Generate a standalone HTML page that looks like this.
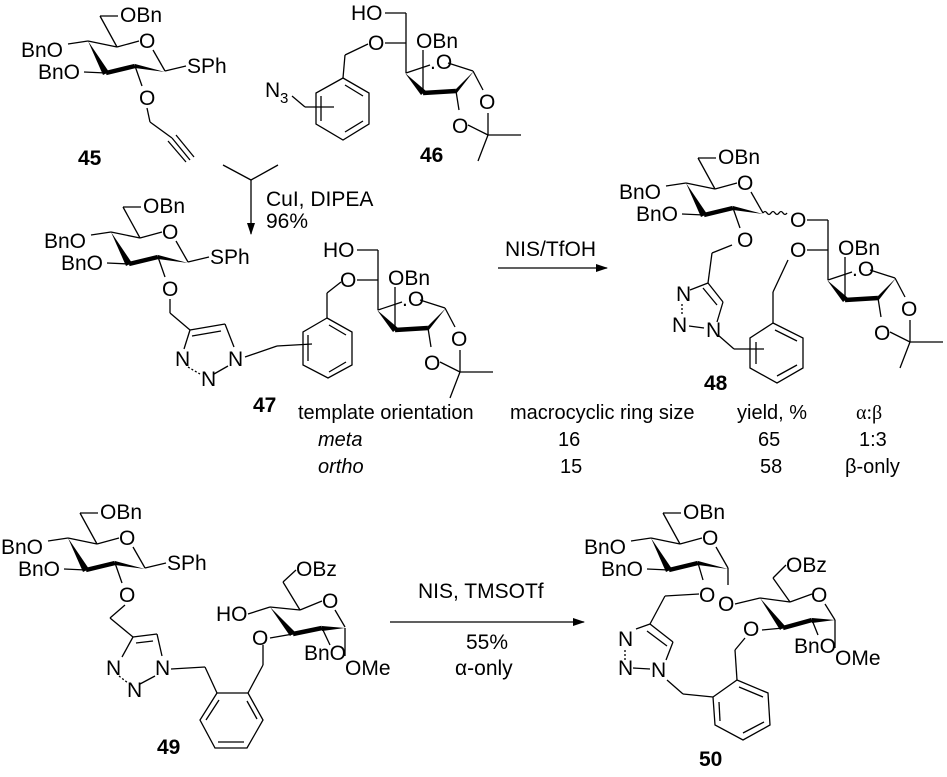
<!DOCTYPE html>
<html><head><meta charset="utf-8"><style>
html,body{margin:0;padding:0;background:#fff;overflow:hidden;width:947px;height:777px;}
svg{display:block;}
text{font-family:"Liberation Sans",sans-serif;font-size:21px;fill:#000;}
.b{font-weight:bold;}
.t{font-size:20px;}
.i{font-style:italic;}
line,polyline,path{stroke:#000;stroke-width:1.3;fill:none;}
.w{stroke-width:4.5;}
polygon{fill:#000;stroke:none;}
</style></head><body>
<svg width="947" height="777" viewBox="0 0 947 777" xmlns="http://www.w3.org/2000/svg">
<defs>
<marker id="ah" markerWidth="12" markerHeight="8" refX="11" refY="4" orient="auto" markerUnits="userSpaceOnUse"><path d="M0,0 L12,4 L0,8 z" style="fill:#000;stroke:none"/></marker>
</defs>

<!-- 45 -->
<g transform="translate(0,0)">
<line x1="100" y1="16" x2="118" y2="16"/><text x="120" y="22">OBn</text>
<line x1="100" y1="16" x2="117" y2="47"/>
<line x1="88" y1="41" x2="117" y2="47"/>
<line x1="117" y1="47" x2="139" y2="41"/><text x="139" y="48">O</text>
<line x1="153" y1="50" x2="165" y2="71"/>
<line x1="88" y1="41" x2="68" y2="44"/><text x="21" y="57">BnO</text>
<polygon points="88,41 103,75 109,72"/>
<line class="w" x1="106" y1="73" x2="135" y2="66"/>
<polygon points="135,64 135,68 165,72"/>
<line x1="106" y1="73" x2="84" y2="72"/><text x="38" y="79">BnO</text>
<line x1="165" y1="71" x2="186" y2="66"/><text x="187" y="73">SPh</text>
<line x1="135" y1="66" x2="142" y2="86"/><text x="139" y="105">O</text>
</g>
<line x1="147" y1="108" x2="150" y2="122"/>
<line x1="150" y1="122" x2="172" y2="138"/>
<line x1="172" y1="138" x2="190" y2="160"/>
<line x1="168" y1="141" x2="186" y2="162"/>
<line x1="176" y1="135" x2="194" y2="157"/>
<text class="b" x="78" y="165">45</text>

<!-- 47 glucose -->
<g transform="translate(23,191)">
<line x1="100" y1="16" x2="118" y2="16"/><text x="120" y="22">OBn</text>
<line x1="100" y1="16" x2="117" y2="47"/>
<line x1="88" y1="41" x2="117" y2="47"/>
<line x1="117" y1="47" x2="139" y2="41"/><text x="139" y="48">O</text>
<line x1="153" y1="50" x2="165" y2="71"/>
<line x1="88" y1="41" x2="68" y2="44"/><text x="21" y="57">BnO</text>
<polygon points="88,41 103,75 109,72"/>
<line class="w" x1="106" y1="73" x2="135" y2="66"/>
<polygon points="135,64 135,68 165,72"/>
<line x1="106" y1="73" x2="84" y2="72"/><text x="38" y="79">BnO</text>
<line x1="165" y1="71" x2="186" y2="66"/><text x="187" y="73">SPh</text>
<line x1="135" y1="66" x2="142" y2="86"/><text x="139" y="105">O</text>
</g>
<!-- 47 triazole -->
<line x1="170" y1="299" x2="170" y2="313"/>
<line x1="170" y1="313" x2="190" y2="330"/>
<line x1="190" y1="330" x2="225" y2="324"/>
<line x1="192" y1="336" x2="221" y2="331"/>
<line x1="225" y1="324" x2="234" y2="347"/>
<line x1="190" y1="330" x2="184" y2="349"/>
<text x="175" y="366">N</text><text x="201" y="386">N</text><text x="228" y="366">N</text>
<line x1="188" y1="367" x2="200" y2="374" stroke-dasharray="2,2"/>
<line x1="214" y1="374" x2="228" y2="366"/>
<line x1="245" y1="357" x2="277" y2="346"/>
<line x1="277" y1="346" x2="312" y2="344"/>
<polyline points="327,318 352,332 352,365 328,378 303,365 303,332 327,318"/>
<line x1="329" y1="325" x2="346" y2="335"/><line x1="346" y1="362" x2="329" y2="372"/><line x1="308" y1="335" x2="308" y2="361"/>
<line x1="327" y1="318" x2="327" y2="293"/><line x1="327" y1="293" x2="341" y2="282"/>
<text class="b" x="253" y="412">47</text>

<!-- furanose 47 -->
<g>
<text x="323" y="257">HO</text>
<line x1="357" y1="250" x2="378" y2="250"/><line x1="378" y1="250" x2="378" y2="310"/>
<text x="340" y="287">O</text><line x1="357" y1="280" x2="378" y2="280"/>
<text x="388" y="285">OBn</text>
<line x1="395" y1="287" x2="395" y2="330"/>
<polygon points="377,310 393,332 398,328"/>
<line class="w" x1="395" y1="330" x2="428" y2="328"/>
<polygon points="428,326 428,331 446,308"/>
<line x1="378" y1="310" x2="402" y2="302"/>
<text x="402" y="306">.O</text>
<line x1="420" y1="300" x2="445" y2="308"/>
<line x1="428" y1="328" x2="431" y2="347"/><text x="424" y="370">O</text>
<line x1="445" y1="308" x2="455" y2="327"/><text x="451" y="346">O</text>
<line x1="440" y1="362" x2="460" y2="372"/><line x1="460" y1="350" x2="460" y2="372"/>
<line x1="460" y1="372" x2="493" y2="372"/><line x1="460" y1="372" x2="450" y2="398"/>
</g>

<!-- 46 -->
<g transform="translate(28,-237)">
<text x="323" y="257">HO</text>
<line x1="357" y1="250" x2="378" y2="250"/><line x1="378" y1="250" x2="378" y2="310"/>
<text x="340" y="287">O</text><line x1="357" y1="280" x2="378" y2="280"/>
<text x="388" y="285">OBn</text>
<line x1="395" y1="287" x2="395" y2="330"/>
<polygon points="377,310 393,332 398,328"/>
<line class="w" x1="395" y1="330" x2="428" y2="328"/>
<polygon points="428,326 428,331 446,308"/>
<line x1="378" y1="310" x2="402" y2="302"/>
<text x="402" y="306">.O</text>
<line x1="420" y1="300" x2="445" y2="308"/>
<line x1="428" y1="328" x2="431" y2="347"/><text x="424" y="370">O</text>
<line x1="445" y1="308" x2="455" y2="327"/><text x="451" y="346">O</text>
<line x1="440" y1="362" x2="460" y2="372"/><line x1="460" y1="350" x2="460" y2="372"/>
<line x1="460" y1="372" x2="493" y2="372"/><line x1="460" y1="372" x2="450" y2="398"/>
</g>
<line x1="368" y1="44" x2="345" y2="55"/><line x1="345" y1="55" x2="343" y2="78"/>
<polyline points="343,78 369,93 369,124 343,140 316,124 316,93 343,78"/>
<line x1="345" y1="85" x2="363" y2="96"/><line x1="363" y1="121" x2="345" y2="132"/><line x1="321" y1="96" x2="321" y2="121"/>
<text x="265" y="97">N</text><text x="280" y="103" style="font-size:15px">3</text>
<line x1="292" y1="96" x2="305" y2="107"/><line x1="305" y1="107" x2="334" y2="107"/>
<text class="b" x="420" y="162">46</text>

<!-- arrow 1 -->
<line x1="223" y1="165" x2="251" y2="180"/><line x1="278" y1="165" x2="251" y2="180"/>
<line x1="251" y1="180" x2="251" y2="234" marker-end="url(#ah)"/>
<text x="266" y="206">CuI, DIPEA</text>
<text x="266" y="228">96%</text>

<!-- arrow 2 -->
<text x="505" y="256">NIS/TfOH</text>
<line x1="498" y1="268" x2="607" y2="268" marker-end="url(#ah)"/>

<!-- 48 glucose -->
<g transform="translate(598,142)">
<line x1="100" y1="16" x2="118" y2="16"/><text x="120" y="22">OBn</text>
<line x1="100" y1="16" x2="117" y2="47"/>
<line x1="88" y1="41" x2="117" y2="47"/>
<line x1="117" y1="47" x2="139" y2="41"/><text x="139" y="48">O</text>
<line x1="153" y1="50" x2="165" y2="71"/>
<line x1="88" y1="41" x2="68" y2="44"/><text x="21" y="57">BnO</text>
<polygon points="88,41 103,75 109,72"/>
<line class="w" x1="106" y1="73" x2="135" y2="66"/>
<polygon points="135,64 135,68 165,72"/>
<line x1="106" y1="73" x2="84" y2="72"/><text x="38" y="79">BnO</text>
<path d="M165,71 q2,-3 4,0 q2,3 4,0 q2,-3 4,0 q2,3 4,0 q2,-3 4,0 q2,3 4,0"/>
<line x1="135" y1="66" x2="142" y2="86"/><text x="139" y="105">O</text>
</g>
<g transform="translate(450,-30)">
<text x="340" y="257">O</text>
<line x1="357" y1="250" x2="378" y2="250"/><line x1="378" y1="250" x2="378" y2="310"/>
<text x="340" y="287">O</text><line x1="357" y1="280" x2="378" y2="280"/>
<text x="388" y="285">OBn</text>
<line x1="395" y1="287" x2="395" y2="330"/>
<polygon points="377,310 393,332 398,328"/>
<line class="w" x1="395" y1="330" x2="428" y2="328"/>
<polygon points="428,326 428,331 446,308"/>
<line x1="378" y1="310" x2="402" y2="302"/>
<text x="402" y="306">.O</text>
<line x1="420" y1="300" x2="445" y2="308"/>
<line x1="428" y1="328" x2="431" y2="347"/><text x="424" y="370">O</text>
<line x1="445" y1="308" x2="455" y2="327"/><text x="451" y="346">O</text>
<line x1="440" y1="362" x2="460" y2="372"/><line x1="460" y1="350" x2="460" y2="372"/>
<line x1="460" y1="372" x2="493" y2="372"/><line x1="460" y1="372" x2="450" y2="398"/>
</g>
<line x1="732" y1="245" x2="712" y2="253"/><line x1="712" y1="253" x2="708" y2="283"/>
<line x1="708" y1="283" x2="723" y2="302"/><line x1="703" y1="288" x2="717" y2="305"/>
<line x1="708" y1="283" x2="690" y2="290"/>
<line x1="723" y1="302" x2="717" y2="322"/>
<text x="676" y="301">N</text><text x="672" y="332">N</text><text x="706" y="337">N</text>
<line x1="682" y1="304" x2="682" y2="316" stroke-dasharray="2,2"/>
<line x1="689" y1="326" x2="704" y2="328"/>
<line x1="718" y1="335" x2="734" y2="349"/><line x1="734" y1="349" x2="764" y2="349"/>
<polyline points="773,323 803,338 803,368 777,383 750,368 750,338 773,323"/>
<line x1="775" y1="330" x2="797" y2="341"/><line x1="797" y1="365" x2="777" y2="376"/><line x1="756" y1="342" x2="756" y2="364"/>
<line x1="773" y1="323" x2="773" y2="292"/><line x1="773" y1="292" x2="788" y2="260"/>
<text class="b" x="704" y="390">48</text>

<!-- table -->
<text class="t" x="298" y="419">template orientation</text>
<text class="t" x="510" y="419">macrocyclic ring size</text>
<text class="t" x="737" y="419">yield, %</text>
<text class="t" x="856" y="419" style="font-family:'Liberation Serif',serif">α:β</text>
<text class="t i" x="318" y="446">meta</text>
<text class="t" x="558" y="446">16</text>
<text class="t" x="758" y="446">65</text>
<text class="t" x="859" y="446">1:3</text>
<text class="t i" x="318" y="473">ortho</text>
<text class="t" x="560" y="473">15</text>
<text class="t" x="760" y="473">58</text>
<text class="t" x="845" y="473">β-only</text>

<!-- 49 glucose -->
<g transform="translate(-20,497)">
<line x1="100" y1="16" x2="118" y2="16"/><text x="120" y="22">OBn</text>
<line x1="100" y1="16" x2="117" y2="47"/>
<line x1="88" y1="41" x2="117" y2="47"/>
<line x1="117" y1="47" x2="139" y2="41"/><text x="139" y="48">O</text>
<line x1="153" y1="50" x2="165" y2="71"/>
<line x1="88" y1="41" x2="68" y2="44"/><text x="21" y="57">BnO</text>
<polygon points="88,41 103,75 109,72"/>
<line class="w" x1="106" y1="73" x2="135" y2="66"/>
<polygon points="135,64 135,68 165,72"/>
<line x1="106" y1="73" x2="84" y2="72"/><text x="38" y="79">BnO</text>
<line x1="165" y1="71" x2="186" y2="66"/><text x="187" y="73">SPh</text>
<line x1="135" y1="66" x2="142" y2="86"/><text x="139" y="105">O</text>
</g>
<line x1="125" y1="605" x2="110" y2="618"/><line x1="110" y1="618" x2="133" y2="637"/>
<line x1="133" y1="637" x2="157" y2="634"/><line x1="136" y1="643" x2="153" y2="641"/>
<line x1="157" y1="634" x2="162" y2="656"/>
<line x1="133" y1="637" x2="122" y2="657"/>
<text x="106" y="675">N</text><text x="127" y="697">N</text><text x="155" y="675">N</text>
<line x1="119" y1="676" x2="128" y2="683" stroke-dasharray="2,2"/>
<line x1="140" y1="684" x2="155" y2="676"/>
<line x1="171" y1="669" x2="205" y2="667"/><line x1="205" y1="667" x2="217" y2="693"/>
<polyline points="217,693 248,693 263,720 247,748 215,748 200,720 217,693"/>
<line x1="219" y1="700" x2="206" y2="720"/><line x1="247" y1="701" x2="257" y2="719"/><line x1="218" y1="742" x2="244" y2="742"/>
<line x1="248" y1="693" x2="263" y2="665"/><line x1="263" y1="665" x2="263" y2="645"/>
<text class="b" x="157" y="754">49</text>
<text x="216" y="621">HO</text><line x1="248" y1="614" x2="270" y2="607"/>
<line x1="270" y1="607" x2="300" y2="610"/>
<line x1="300" y1="610" x2="322" y2="601"/><text x="322" y="608">O</text>
<line x1="335" y1="610" x2="345" y2="627"/>
<polygon points="270,607 290,636 295,632"/>
<line class="w" x1="293" y1="634" x2="322" y2="628"/>
<polygon points="322,626 322,631 345,628"/>
<line x1="300" y1="610" x2="283" y2="582"/><line x1="283" y1="582" x2="296" y2="570"/>
<text x="296" y="576">OBz</text>
<line x1="293" y1="634" x2="270" y2="638"/><text x="252" y="645">O</text>
<line x1="322" y1="628" x2="330" y2="645"/><text x="304" y="660">BnO</text>
<line x1="345" y1="628" x2="345" y2="656"/><text x="345" y="675">OMe</text>

<!-- arrow 3 -->
<text x="418" y="598">NIS, TMSOTf</text>
<line x1="390" y1="622" x2="584" y2="622" marker-end="url(#ah)"/>
<text x="466" y="649">55%</text>
<text x="455" y="675">α-only</text>

<!-- 50 glucose -->
<g transform="translate(563,497)">
<line x1="100" y1="16" x2="118" y2="16"/><text x="120" y="22">OBn</text>
<line x1="100" y1="16" x2="117" y2="47"/>
<line x1="88" y1="41" x2="117" y2="47"/>
<line x1="117" y1="47" x2="139" y2="41"/><text x="139" y="48">O</text>
<line x1="153" y1="50" x2="165" y2="71"/>
<line x1="88" y1="41" x2="68" y2="44"/><text x="21" y="57">BnO</text>
<polygon points="88,41 103,75 109,72"/>
<line class="w" x1="106" y1="73" x2="135" y2="66"/>
<polygon points="135,64 135,68 165,72"/>
<line x1="106" y1="73" x2="84" y2="72"/><text x="38" y="79">BnO</text>
<line x1="165" y1="71" x2="165" y2="88"/>
<line x1="135" y1="66" x2="140" y2="83"/>
</g>
<text x="699" y="602">O</text>
<text x="718" y="611">O</text>
<line x1="735" y1="604" x2="760" y2="598"/>
<line x1="760" y1="598" x2="790" y2="602"/>
<line x1="790" y1="602" x2="812" y2="594"/><text x="811" y="602">O</text>
<line x1="825" y1="604" x2="835" y2="620"/>
<polygon points="760,598 780,630 785,626"/>
<line class="w" x1="783" y1="628" x2="812" y2="620"/>
<polygon points="812,618 812,623 835,620"/>
<line x1="790" y1="602" x2="773" y2="578"/><line x1="773" y1="578" x2="786" y2="565"/>
<text x="786" y="572">OBz</text>
<line x1="783" y1="628" x2="762" y2="630"/><text x="743" y="636">O</text>
<line x1="812" y1="620" x2="818" y2="635"/><text x="794" y="653">BnO</text>
<line x1="835" y1="620" x2="835" y2="648"/><text x="835" y="665">OMe</text>
<line x1="699" y1="594" x2="665" y2="596"/><line x1="665" y1="596" x2="650" y2="624"/>
<line x1="650" y1="624" x2="673" y2="642"/><line x1="647" y1="631" x2="667" y2="646"/>
<line x1="650" y1="624" x2="636" y2="629"/>
<line x1="673" y1="642" x2="666" y2="660"/>
<text x="618" y="646">N</text><text x="618" y="675">N</text><text x="651" y="677">N</text>
<line x1="625" y1="650" x2="625" y2="660" stroke-dasharray="2,2"/>
<line x1="633" y1="668" x2="650" y2="669"/>
<line x1="667" y1="680" x2="683" y2="694"/><line x1="683" y1="694" x2="713" y2="697"/>
<polyline points="713,697 737,680 768,693 770,725 743,740 715,725 713,697"/>
<line x1="739" y1="687" x2="763" y2="697"/><line x1="764" y1="722" x2="743" y2="733"/><line x1="719" y1="702" x2="720" y2="721"/>
<line x1="737" y1="680" x2="735" y2="650"/><line x1="735" y1="650" x2="745" y2="638"/>
<text class="b" x="699" y="766">50</text>
</svg>
</body></html>
